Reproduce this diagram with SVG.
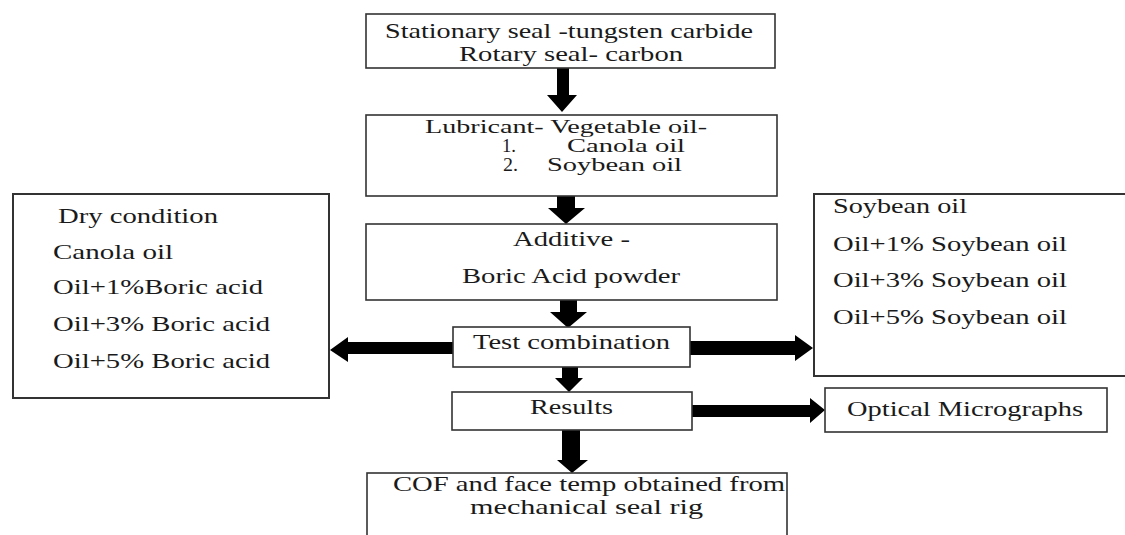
<svg xmlns="http://www.w3.org/2000/svg" width="1125" height="535" viewBox="0 0 1125 535">
<style>
.box{fill:#fff;stroke:#333;stroke-width:1.6}
.t{font-family:"Liberation Serif","Times New Roman",serif;font-size:21px;fill:#1a1a1a}
.s{font-size:19px}
.arr{fill:#000}
</style>
<rect width="1125" height="535" fill="#fff"/>
<g id="connectors">
<polygon class="arr" points="557,68 569,68 569,95 577,95 562,112 547,95 557,95"/>
<polygon class="arr" points="557,196 575,196 575,208 585,208 566,224 548,208 557,208"/>
<polygon class="arr" points="560,300 577,300 577,312 587,312 568,328 550,312 560,312"/>
<polygon class="arr" points="562,367 578,367 578,378 583,378 569,392 555,378 562,378"/>
<polygon class="arr" points="562,430 580,430 580,460 588,460 572,473 557,460 562,460"/>
<polygon class="arr" points="453,342 348,342 348,337 330,350 348,362 348,354 453,354"/>
<polygon class="arr" points="690,341 795,341 795,335 813,348 795,361 795,355 690,355"/>
<polygon class="arr" points="692,405 810,405 810,398 825,410 810,423 810,417 692,417"/>
</g>
<g id="n1">
<rect class="box" x="366" y="14" width="409" height="54"/>
<text class="t" x="385" y="38" textLength="368" lengthAdjust="spacingAndGlyphs">Stationary seal -tungsten carbide</text>
<text class="t" x="459" y="61" textLength="224" lengthAdjust="spacingAndGlyphs">Rotary seal- carbon</text>
</g>
<g id="n2">
<rect class="box" x="366" y="115" width="411" height="81"/>
<text class="t s" x="425" y="133" textLength="282" lengthAdjust="spacingAndGlyphs">Lubricant- Vegetable oil-</text>
<text class="t s" x="502" y="152" textLength="14" lengthAdjust="spacingAndGlyphs">1.</text>
<text class="t s" x="567" y="152" textLength="118" lengthAdjust="spacingAndGlyphs">Canola oil</text>
<text class="t s" x="503" y="171" textLength="15" lengthAdjust="spacingAndGlyphs">2.</text>
<text class="t s" x="547" y="171" textLength="135" lengthAdjust="spacingAndGlyphs">Soybean oil</text>
</g>
<g id="n3">
<rect class="box" x="366" y="224" width="411" height="76"/>
<text class="t" x="513" y="246" textLength="117" lengthAdjust="spacingAndGlyphs">Additive -</text>
<text class="t" x="462" y="283" textLength="218" lengthAdjust="spacingAndGlyphs">Boric Acid powder</text>
</g>
<g id="n4">
<rect class="box" x="453" y="327" width="237" height="40"/>
<text class="t" x="473" y="349" textLength="197" lengthAdjust="spacingAndGlyphs">Test combination</text>
</g>
<g id="n5">
<rect class="box" x="452" y="392" width="240" height="38"/>
<text class="t" x="530" y="414" textLength="83" lengthAdjust="spacingAndGlyphs">Results</text>
</g>
<g id="n6">
<rect class="box" x="367" y="473" width="420" height="80"/>
<text class="t" x="393" y="491" textLength="392" lengthAdjust="spacingAndGlyphs">COF and face temp obtained from</text>
<text class="t" x="470" y="514" textLength="233" lengthAdjust="spacingAndGlyphs">mechanical seal rig</text>
</g>
<g id="n7">
<rect class="box" x="825" y="388" width="282" height="44"/>
<text class="t" x="847" y="416" textLength="236" lengthAdjust="spacingAndGlyphs">Optical Micrographs</text>
</g>
<g id="n8">
<rect class="box" x="13" y="194" width="316" height="204" style="stroke-width:2"/>
<text class="t" x="58" y="223" textLength="160" lengthAdjust="spacingAndGlyphs">Dry condition</text>
<text class="t" x="53" y="259" textLength="120" lengthAdjust="spacingAndGlyphs">Canola oil</text>
<text class="t" x="53" y="294" textLength="210" lengthAdjust="spacingAndGlyphs">Oil+1%Boric acid</text>
<text class="t" x="53" y="331" textLength="217" lengthAdjust="spacingAndGlyphs">Oil+3% Boric acid</text>
<text class="t" x="53" y="368" textLength="217" lengthAdjust="spacingAndGlyphs">Oil+5% Boric acid</text>
</g>
<g id="n9">
<rect class="box" x="814" y="194" width="330" height="182" style="stroke-width:2"/>
<text class="t" x="833" y="213" textLength="134" lengthAdjust="spacingAndGlyphs">Soybean oil</text>
<text class="t" x="833" y="251" textLength="234" lengthAdjust="spacingAndGlyphs">Oil+1% Soybean oil</text>
<text class="t" x="833" y="287" textLength="234" lengthAdjust="spacingAndGlyphs">Oil+3% Soybean oil</text>
<text class="t" x="833" y="324" textLength="234" lengthAdjust="spacingAndGlyphs">Oil+5% Soybean oil</text>
</g>
</svg>
